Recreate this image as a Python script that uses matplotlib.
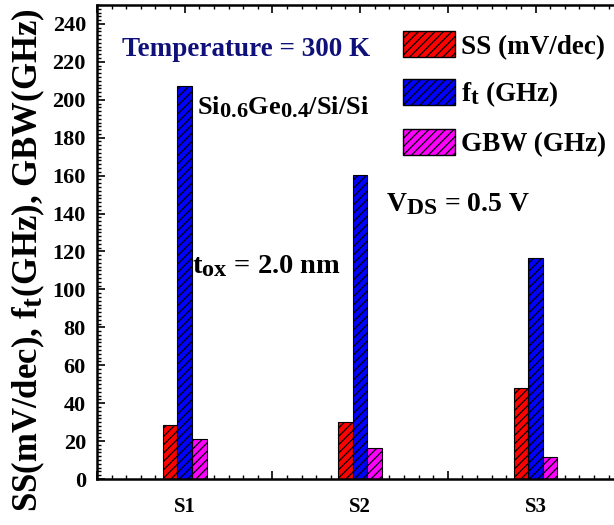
import matplotlib
matplotlib.use("Agg")
import matplotlib.pyplot as plt
import matplotlib._mathtext as _mt
from matplotlib.ticker import MultipleLocator, FixedLocator, NullFormatter
from matplotlib.patches import Patch
import numpy as np

_mt.SHRINK_FACTOR = 0.85

categories = ["S1", "S2", "S3"]
ss_values = [28.4, 30.1, 47.9]
ft_values = [207, 160.5, 116.5]
gbw_values = [21.1, 16.5, 11.8]
series_labels = ["SS (mV/dec)", "f$_\\mathregular{t}$ (GHz)", "GBW (GHz)"]
series_colors = ["#ff0000", "#0000ff", "#ff00ff"]

plt.rcParams['font.family'] = ['Liberation Serif', 'DejaVu Serif']
plt.rcParams['font.weight'] = 'bold'
plt.rcParams['mathtext.fontset'] = 'custom'
plt.rcParams['mathtext.rm'] = 'Liberation Serif:bold'
plt.rcParams['mathtext.it'] = 'Liberation Serif:bold'
plt.rcParams['mathtext.bf'] = 'Liberation Serif:bold'
plt.rcParams['mathtext.default'] = 'rm'
plt.rcParams['hatch.linewidth'] = 0.9
plt.rcParams['hatch.color'] = 'black'

fig = plt.figure(figsize=(6.14, 5.25), dpi=100)
ax = fig.add_axes([0.158, 0.0876, 0.857, 0.903])

x = np.arange(1, len(categories) + 1)
w = 0.083
for off, vals, col, lab in zip([-w, 0, w], [ss_values, ft_values, gbw_values],
                               series_colors, series_labels):
    ax.bar(x + off, vals, width=w, color=col, edgecolor='black', linewidth=0.8,
           hatch='////', label=lab, zorder=2)

ax.set_xlim(0.5, 3.5)
ax.set_ylim(0, 250)

ax.xaxis.set_major_locator(MultipleLocator(0.5))
ax.xaxis.set_minor_locator(MultipleLocator(1/12))
ax.xaxis.set_major_formatter(NullFormatter())
ax.yaxis.set_major_locator(FixedLocator(np.arange(0, 241, 20)))
ax.yaxis.set_minor_locator(MultipleLocator(2))

ax.tick_params(axis='both', which='both', direction='in', top=True, right=False)
ax.tick_params(axis='both', which='major', length=6, width=1.2)
ax.tick_params(axis='both', which='minor', length=3, width=1.0)
ax.tick_params(axis='y', labelsize=16, pad=8)
for lbl in ax.get_yticklabels():
    lbl.set_fontweight('bold')

for xi, c in zip(x, categories):
    ax.text(xi, -0.038, c, transform=ax.get_xaxis_transform(), ha='center',
            va='top', fontsize=15, fontweight='bold')

for sp in ['left', 'bottom', 'top']:
    ax.spines[sp].set_linewidth(1.8)
ax.spines['right'].set_visible(False)

fig.text(0.046, 0.505, "SS(mV/dec), f$_\\mathregular{t}$(GHz), GBW(GHz)",
         rotation=90, ha='center', va='center', fontsize=25, fontweight='bold')

ax.text(0.048, 0.905, "Temperature = 300 K", transform=ax.transAxes,
        fontsize=19.5, fontweight='bold', color='#10107a', ha='left', va='center')
ax.text(0.19, 0.785, "Si$_{0.6}$Ge$_{0.4}$/Si/Si", transform=ax.transAxes,
        fontsize=19, fontweight='bold', ha='left', va='center')
ax.text(0.18, 0.45, "t$_{ox}$ = 2.0 nm", transform=ax.transAxes,
        fontsize=20.5, fontweight='bold', ha='left', va='center')
ax.text(0.55, 0.58, "V$_{DS}$ = 0.5 V", transform=ax.transAxes,
        fontsize=20, fontweight='bold', ha='left', va='center')

handles = [Patch(facecolor=c, edgecolor='black', hatch='////', linewidth=1.0)
           for c in series_colors]
ax.legend(handles, series_labels, loc='upper left', bbox_to_anchor=(0.582, 0.944),
          frameon=False, handlelength=1.92, handleheight=1.1,
          handletextpad=0.2, labelspacing=0.72, borderaxespad=0.0, borderpad=0.0,
          prop={'family': 'Liberation Serif', 'weight': 'bold', 'size': 19.5})

fig.savefig("out.png", dpi=100)
